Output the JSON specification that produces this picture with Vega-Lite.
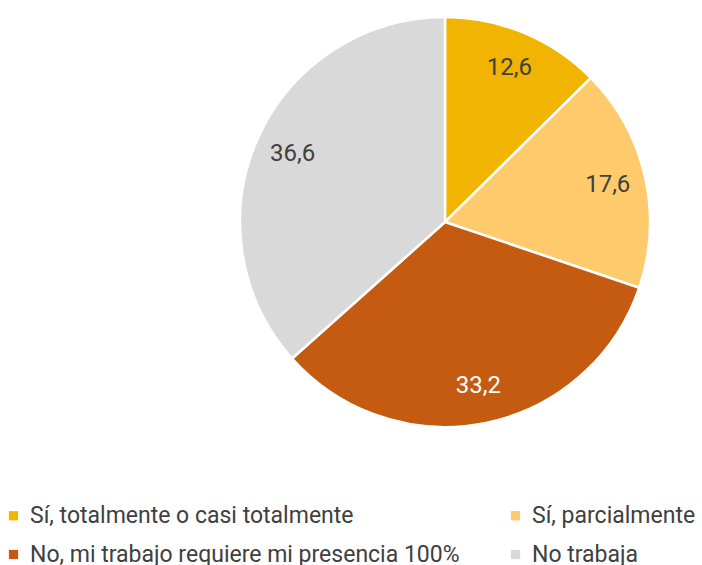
{
  "$schema": "https://vega.github.io/schema/vega-lite/v6.json",
  "autosize": "none",
  "width": 410,
  "height": 410,
  "padding": {"left": 240, "top": 17, "right": 52, "bottom": 138},
  "background": "white",
  "config": {"view": {"stroke": null}, "font": "Roboto"},
  "data": {"values": [
    {"cat": "Sí, totalmente o casi totalmente", "value": 12.6, "label": "12,6", "ord": 1},
    {"cat": "Sí, parcialmente", "value": 17.6, "label": "17,6", "ord": 2},
    {"cat": "No, mi trabajo requiere mi presencia 100%", "value": 33.2, "label": "33,2", "ord": 3},
    {"cat": "No trabaja", "value": 36.6, "label": "36,6", "ord": 4}
  ]},
  "encoding": {
    "theta": {"field": "value", "type": "quantitative", "stack": true},
    "order": {"field": "ord", "type": "quantitative"}
  },
  "layer": [
    {
      "mark": {"type": "arc", "outerRadius": 205, "stroke": "white", "strokeWidth": 2.5},
      "encoding": {
        "color": {
          "field": "cat", "type": "nominal",
          "scale": {
            "domain": ["Sí, totalmente o casi totalmente", "Sí, parcialmente", "No, mi trabajo requiere mi presencia 100%", "No trabaja"],
            "range": ["#F1B400", "#FFCA6B", "#C55A11", "#D9D9D9"]
          },
          "legend": {
            "title": null,
            "orient": "none",
            "legendX": -238,
            "legendY": 487,
            "direction": "horizontal",
            "columns": 2,
            "columnPadding": 44,
            "rowPadding": 15,
            "symbolType": "square",
            "symbolSize": 85,
            "symbolStrokeWidth": 0,
            "labelFont": "Roboto",
            "labelFontSize": 23,
            "labelColor": "#404040",
            "labelLimit": 600,
            "labelOffset": 5
          }
        }
      }
    },
    {
      "mark": {"type": "text", "radius": 167, "font": "Roboto", "fontSize": 24},
      "encoding": {
        "text": {"field": "label", "type": "nominal"},
        "color": {
          "condition": {"test": "datum.ord == 3", "value": "white"},
          "value": "#404040"
        }
      }
    }
  ]
}
